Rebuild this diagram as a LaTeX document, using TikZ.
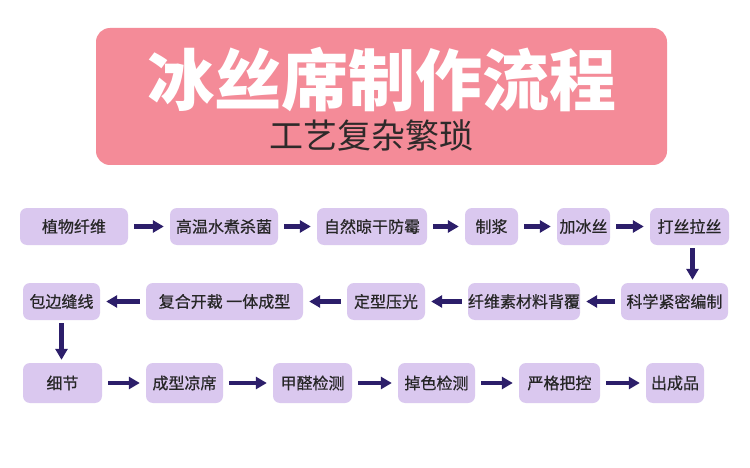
\documentclass[tikz,border=0pt]{standalone}
\usepackage{fontspec}
\setmainfont{Noto Sans CJK SC}
\newfontfamily\cjk{Noto Sans CJK SC}
\newfontfamily\cjkmed[FakeBold=0.6]{Noto Sans CJK SC}
\usetikzlibrary{arrows.meta}
\definecolor{titlepink}{HTML}{F48B98}
\definecolor{boxpurple}{HTML}{DAC8EF}
\definecolor{arrownavy}{HTML}{2C1E6A}
\definecolor{subtext}{HTML}{2E2A2A}
\tikzset{
  stepbox/.style={rectangle, rounded corners=7pt, fill=boxpurple, inner sep=0pt,
    minimum height=37pt, font=\cjkmed\fontsize{16}{16}\selectfont, text=black!85},
  flowarrow/.style={arrownavy, line width=4.5pt, -{Triangle[width=12pt,length=11pt]},
    shorten <=6pt, shorten >=6pt},
  downarrow/.style={arrownavy, line width=4.5pt, -{Triangle[width=12pt,length=11pt]},
    shorten <=3pt, shorten >=3pt}
}
\begin{document}
\begin{tikzpicture}[x=1pt,y=-1pt]
\useasboundingbox[fill=white] (0,0) rectangle (750,468);
% title banner
\node[rectangle, rounded corners=14pt, fill=titlepink, minimum width=571pt, minimum height=137pt, inner sep=0pt] (banner) at (381.5,96.5) {};
\node[text=white, font=\cjk\bfseries\fontsize{67}{67}\selectfont, inner sep=0pt] (title) at (382,80) {冰丝席制作流程};
\node[text=subtext, font=\cjk\fontsize{34}{34}\selectfont, inner sep=0pt] (subtitle) at (371,135) {工艺复杂繁琐};
% row 1
\node[stepbox, minimum width=108pt] (a1) at (74,226.5) {植物纤维};
\node[stepbox, minimum width=108pt] (a2) at (224,226.5) {高温水煮杀菌};
\node[stepbox, minimum width=110pt] (a3) at (372,226.5) {自然晾干防霉};
\node[stepbox, minimum width=53pt] (a4) at (491.5,226.5) {制浆};
\node[stepbox, minimum width=53pt] (a5) at (583.5,226.5) {加冰丝};
\node[stepbox, minimum width=79pt] (a6) at (689.5,226.5) {打丝拉丝};
% row 2
\node[stepbox, minimum width=107pt] (b1) at (674.5,301.5) {科学紧密编制};
\node[stepbox, minimum width=108pt] (b2) at (524,301.5) {纤维素材料背覆};
\node[stepbox, minimum width=78pt] (b3) at (386,301.5) {定型压光};
\node[stepbox, minimum width=157pt] (b4) at (224.5,301.5) {复合开裁 一体成型};
\node[stepbox, minimum width=77pt] (b5) at (61.5,301.5) {包边缝线};
% row 3
\node[stepbox, minimum width=79pt, minimum height=40pt] (c1) at (62.5,383) {细节};
\node[stepbox, minimum width=77pt, minimum height=40pt] (c2) at (184.5,383) {成型凉席};
\node[stepbox, minimum width=79pt, minimum height=40pt] (c3) at (312.5,383) {甲醛检测};
\node[stepbox, minimum width=77pt, minimum height=40pt] (c4) at (436.5,383) {掉色检测};
\node[stepbox, minimum width=81pt, minimum height=40pt] (c5) at (559.5,383) {严格把控};
\node[stepbox, minimum width=58pt, minimum height=40pt] (c6) at (675,383) {出成品};
% arrows row 1
\draw[flowarrow] (a1) -- (a2);
\draw[flowarrow] (a2) -- (a3);
\draw[flowarrow] (a3) -- (a4);
\draw[flowarrow] (a4) -- (a5);
\draw[flowarrow] (a5) -- (a6);
\draw[downarrow] ([xshift=3pt]a6.south) -- ([xshift=3pt]a6.south |- b1.north);
% arrows row 2
\draw[flowarrow] (b1) -- (b2);
\draw[flowarrow] (b2) -- (b3);
\draw[flowarrow] (b3) -- (b4);
\draw[flowarrow] (b4) -- (b5);
\draw[downarrow] (b5.south) -- (b5.south |- c1.north);
% arrows row 3
\draw[flowarrow] (c1) -- (c2);
\draw[flowarrow] (c2) -- (c3);
\draw[flowarrow] (c3) -- (c4);
\draw[flowarrow] (c4) -- (c5);
\draw[flowarrow] (c5) -- (c6);
\end{tikzpicture}
\end{document}
